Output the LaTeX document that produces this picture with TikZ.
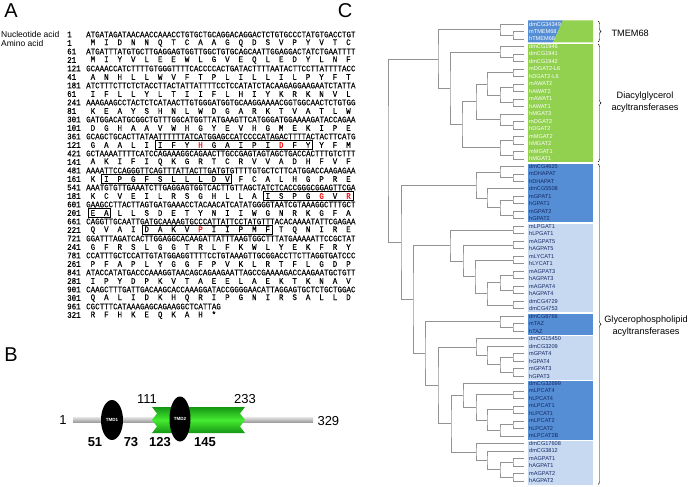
\documentclass[tikz,border=0pt]{standalone}
\usepackage{fontspec}
\setmainfont{Liberation Sans}
\newfontfamily\seqfont[FakeStretch=0.88,FakeBold=0.3]{Liberation Mono}
\usetikzlibrary{calc,shapes.geometric,decorations.pathreplacing}

\definecolor{dagreen}{RGB}{146,208,80}
\definecolor{gpdark}{RGB}{85,142,213}
\definecolor{gplight}{RGB}{198,217,241}
\definecolor{lblnavy}{RGB}{20,40,100}
\definecolor{domlight}{RGB}{70,235,50}
\definecolor{domdark}{RGB}{20,150,20}

\newcommand\rd[1]{\textcolor{red}{#1}}
\newcommand\aaseq[1]{\aaA#1\relax}
\def\aaA#1{\ifx\relax#1\else\hbox to 13.45pt{\hfil#1\hfil}\expandafter\aaA\fi}

% join two children at depth x
\newcommand\jn[4]{%
  \coordinate (#1m) at ($(#3)!.5!(#4)$);
  \coordinate (#1) at (#2,0 |- #1m);
  \draw[branch] (#3) -| (#1) |- (#4);}

\newcommand\aabox[3]{%
  \draw[seqbox] ({86+(3*#2-1.5)*4.483-4.5},{43+17*#1-4.3}) rectangle ({86+(3*#3-1.5)*4.483+4.5},{43+17*#1+4.3});}

\begin{document}
\begin{tikzpicture}[x=1pt,y=-1pt,
  panel/.style={font=\fontsize{20}{20}\selectfont},
  seqline/.style={anchor=west,inner sep=0pt,font=\seqfont\fontsize{8.5}{9}\selectfont},
  rownum/.style={seqline},
  seqbox/.style={draw=black,line width=.5pt},
  branch/.style={draw=gray!85,line width=.6pt},
  leaf/.style={anchor=west,inner sep=0pt,font=\fontsize{5.6}{6}\selectfont},
  group/.style={align=center,font=\fontsize{9.2}{11.5}\selectfont},
  resnum/.style={font=\fontsize{13}{13}\selectfont},
  tmd/.style={ellipse,fill=black,inner sep=0pt,text=white,font=\bfseries\fontsize{4.5}{5}\selectfont}]
\useasboundingbox (0,0) rectangle (697,487);

% ---------- A ----------
\node[panel] (pa) at (11,11) {A};
\node[anchor=west,inner sep=0pt,font=\fontsize{8.5}{9}\selectfont] (ntl) at (1,34.5) {Nucleotide acid};
\node[anchor=west,inner sep=0pt,font=\fontsize{8.5}{9}\selectfont] (aal) at (1,43) {Amino acid};
\foreach \nn/\ns/\an/\as [count=\k from 0] in {
 1/ATGATAGATAACAACCAAACCTGTGCTGCAGGACAGGACTCTGTGCCCTATGTGACCTGT/1/MIDNNQTCAAGQDSVPYVTC,
 61/ATGATTTATGTGCTTGAGGAGTGGTTGGCTGTGCAGCAATTGGAGGACTATCTGAATTTT/21/MIYVLEEWLGVEQLEDYLNF,
 121/GCAAACCATCTTTTGTGGGTTTTCACCCCACTGATACTTTTAATACTTCCTTATTTTACC/41/ANHLLWVFTPLILLILPYFT,
 181/ATCTTTCTTCTCTACCTTACTATTATTTTCCTCCATATCTACAAGAGGAAGAATCTATTA/61/IFLLYLTIIFLHIYKRKNVL,
 241/AAAGAAGCCTACTCTCATAACTTGTGGGATGGTGCAAGGAAAACGGTGGCAACTCTGTGG/81/KEAYSHNLWDGARKTVATLW,
 301/GATGGACATGCGGCTGTTTGGCATGGTTATGAAGTTCATGGGATGGAAAAGATACCAGAA/101/DGHAAVWHGYEVHGMEKIPE,
 361/GCAGCTGCACTTATAATTTTTTATCATGGAGCCATCCCCATAGACTTTTACTACTTCATG/121/GAALIIFY{\rd H}GAIPI{\rd D}FYYFM,
 421/GCTAAAATTTTCATCCAGAAAGGCAGAACTTGCCGAGTAGTAGCTGACCACTTTGTCTTT/141/AKIFIQKGRTCRVVADHFVF,
 481/AAAATTCCAGGGTTCAGTTTATTACTTGATGTGTTTTGTGCTCTTCATGGACCAAGAGAA/161/KIPGFSLLLDVFCALHGPRE,
 541/AAATGTGTTGAAATCTTGAGGAGTGGTCACTTGTTAGCTATCTCACCGGGCGGAGTTCGA/181/KCVEILRSGHLLAISPG{\rd G}V{\rd R},
 601/GAAGCCTTACTTAGTGATGAAACCTACAACATCATATGGGGTAATCGTAAAGGCTTTGCT/201/EALLSDETYNIIWGNRKGFA,
 661/CAGGTTGCAATTGATGCAAAAGTGCCCATTATTCCTATGTTTACACAAAATATTCGAGAA/221/QVAIDAKV{\rd P}IIPMFTQNIRE,
 721/GGATTTAGATCACTTGGAGGCACAAGATTATTTAAGTGGCTTTATGAAAAATTCCGCTAT/241/GFRSLGGTRLFKWLYEKFRY,
 781/CCATTTGCTCCATTGTATGGAGGTTTTCCTGTAAAGTTGCGGACCTTCTTAGGTGATCCC/261/PFAPLYGGFPVKLRTFLGDP,
 841/ATACCATATGACCCAAAGGTAACAGCAGAAGAATTAGCCGAAAAGACCAAGAATGCTGTT/281/IPYDPKVTAEELAEKTKNAV,
 901/CAAGCTTTGATTGACAAGCACCAAAGGATACCGGGGAACATTAGGAGTGCTCTGCTGGAC/301/QALIDKHQRIPGNIRSALLD,
 961/CGCTTTCATAAAGAGCAGAAGGCTCATTAG/321/RFHKEQKAH*}{
  \node[rownum] (nn\k) at (67,{34.5+17*\k}) {\nn};
  \node[seqline] (ns\k) at (86,{34.5+17*\k}) {\ns};
  \node[rownum] (an\k) at (67,{43+17*\k}) {\an};
  \node[seqline] (as\k) at (86,{43+17*\k}) {\expandafter\aaseq\expandafter{\as}};
}
\aabox{6}{6}{17}
\aabox{8}{2}{11}
\aabox{9}{14}{20}
\aabox{10}{1}{2}
\aabox{11}{5}{14}

% ---------- B ----------
\node[panel] (pb) at (11,355) {B};
\shade[top color=gray!25,bottom color=gray!80] (73,417.5) rectangle (313,422.5);
\shade[top color=domdark,bottom color=domdark,middle color=domlight]
  (152,407) -- (245,407) -- (240,413.5) -- (245,420) -- (240,426.5) -- (245,433)
  -- (152,433) -- (157,426.5) -- (152,420) -- (157,413.5) -- cycle;
\node[tmd,minimum width=22pt,minimum height=40pt] (tmd1) at (112,420) {TMD1};
\node[tmd,minimum width=21pt,minimum height=45pt] (tmd2) at (180,419) {TMD2};
\node[resnum] (s1) at (63,420) {1};
\node[resnum,anchor=west] (s329) at (314,421) {329};
\node[resnum] (s111) at (147,399) {111};
\node[resnum] (s233) at (245,399) {233};
\node[resnum,font=\bfseries\fontsize{13}{13}\selectfont] (s51) at (95,442) {51};
\node[resnum,font=\bfseries\fontsize{13}{13}\selectfont] (s73) at (131,442) {73};
\node[resnum,font=\bfseries\fontsize{13}{13}\selectfont] (s123) at (160,442) {123};
\node[resnum,font=\bfseries\fontsize{13}{13}\selectfont] (s145) at (205,442) {145};

% ---------- C ----------
\node[panel] (pc) at (345,11) {C};
% group backgrounds
\fill[gpdark] (528,20.3) -- (563,20.3) -- (553,42.5) -- (528,42.5) -- cycle;
\fill[dagreen] (563,20.3) -- (593,20.3) -- (593,42.5) -- (553,42.5) -- cycle;
\fill[dagreen] (528,44.2) rectangle (593,162.3);
\fill[gpdark] (528,163.8) rectangle (593,222.2);
\fill[gplight] (528,223.7) rectangle (593,312.2);
\fill[gpdark] (528,313.7) rectangle (593,334.6);
\fill[gplight] (528,336.2) rectangle (593,379.6);
\fill[gpdark] (528,381.2) rectangle (593,439.6);
\fill[gplight] (528,441.1) rectangle (593,484.6);
% leaves
\foreach \nm [count=\i from 0] in {dmCG34349,mTMEM68,hTMEM68,
  dmCG1946,dmCG1941,dmCG1942,mDGAT2-L6,hDGAT2-L6,mAWAT2,hAWAT2,mAWAT1,hAWAT1,
  hMGAT3,mDGAT2,hDGAT2,mMGAT2,hMGAT2,mMGAT1,hMGAT1,
  dmCG4625,mDHAPAT,hDHAPAT,dmCG5508,mGPAT1,hGPAT1,mGPAT2,hGPAT2,
  mLPGAT1,hLPGAT1,mAGPAT5,hAGPAT5,mLYCAT1,hLYCAT1,mAGPAT3,hAGPAT3,
  mAGPAT4,hAGPAT4,dmCG4729,dmCG4753,
  dmCG8766,mTAZ,hTAZ,
  dmCG15450,dmCG3209,mGPAT4,hGPAT4,mGPAT3,hGPAT3,
  dmCG32699,mLPCAT4,hLPCAT4,mLPCAT1,hLPCAT1,mLPCAT2,hLPCAT2,mLPCAT2B,
  dmCG17608,dmCG3812,mAGPAT1,hAGPAT1,mAGPAT2,hAGPAT2}{
  \ifnum\i<19 \def\tc{white}\else\def\tc{lblnavy}\fi
  \coordinate (l\i) at (524,{24+7.49*\i});
  \node[leaf,text=\tc] (t\i) at (529,{24+7.49*\i}) {\nm};
}
% TMEM68
\jn{p1}{513}{l1}{l2}
\jn{tm}{500}{l0}{p1}
% DAG family
\jn{p4}{513}{l4}{l5}
\jn{dmd}{500}{l3}{p4}
\jn{p6}{513}{l6}{l7}
\jn{p8}{513}{l8}{l9}
\jn{p10}{513}{l10}{l11}
\jn{awat}{500}{p8}{p10}
\jn{dgl}{487}{p6}{awat}
\jn{p13}{513}{l13}{l14}
\jn{mgt3}{500}{l12}{p13}
\jn{dgx}{476}{dgl}{mgt3}
\jn{p15}{513}{l15}{l16}
\jn{p17}{513}{l17}{l18}
\jn{mgat}{500}{p15}{p17}
\jn{dgv}{462}{dgx}{mgat}
\jn{dag}{450}{dmd}{dgv}
\jn{tmdag}{438}{tm}{dag}
% GPAT / DHAPAT
\jn{p20}{513}{l20}{l21}
\jn{dhap}{500}{l19}{p20}
\jn{p23}{513}{l23}{l24}
\jn{p25}{513}{l25}{l26}
\jn{gp12}{500}{p23}{p25}
\jn{gpm}{487}{l22}{gp12}
\jn{gpdk}{476}{dhap}{gpm}
% LPGAT / AGPAT3-5
\jn{p27}{513}{l27}{l28}
\jn{p29}{513}{l29}{l30}
\jn{p31}{513}{l31}{l32}
\jn{p33}{513}{l33}{l34}
\jn{p35}{513}{l35}{l36}
\jn{p37}{513}{l37}{l38}
\jn{ag34}{500}{p33}{p35}
\jn{ag3}{487}{ag34}{p37}
\jn{lyc}{475}{p31}{ag3}
\jn{ag5}{463}{p29}{lyc}
\jn{agl}{450}{p27}{ag5}
% TAZ
\jn{p40}{513}{l40}{l41}
\jn{taz}{500}{l39}{p40}
% GPAT3/4
\jn{p44}{513}{l44}{l45}
\jn{p46}{513}{l46}{l47}
\jn{gp34}{500}{p44}{p46}
\jn{gpv}{487}{l43}{gp34}
\jn{gpl}{476}{l42}{gpv}
% LPCAT
\jn{p49}{513}{l49}{l50}
\jn{p51}{513}{l51}{l52}
\jn{p53}{513}{l53}{l54}
\jn{lpc2}{500}{p53}{l55}
\jn{lpcb}{487}{p51}{lpc2}
\jn{lpca}{476}{p49}{lpcb}
\jn{lpc}{463}{l48}{lpca}
% AGPAT1/2
\jn{p58}{513}{l58}{l59}
\jn{p60}{513}{l60}{l61}
\jn{ag12}{500}{p58}{p60}
\jn{ag12b}{487}{l57}{ag12}
\jn{agp}{476}{l56}{ag12b}
% backbone
\jn{lpag}{451}{lpc}{agp}
\jn{gplp}{438}{gpl}{lpag}
\jn{tzgp}{425}{taz}{gplp}
\jn{acyl}{413}{agl}{tzgp}
\jn{gpall}{401}{gpdk}{acyl}
\jn{root}{388}{tmdag}{gpall}
% braces
\draw[decorate,decoration={brace,amplitude=3pt}] (598,21) -- (598,42) coordinate[midway] (btm);
\draw[decorate,decoration={brace,amplitude=3pt}] (598,44) -- (598,162) coordinate[midway] (bdg);
\draw[decorate,decoration={brace,amplitude=3pt}] (598,164) -- (598,484.5) coordinate[midway] (bgp);
\node[group,anchor=west] (gtm) at (608,33) {TMEM68};
\node[group] (gdg) at (645,102) {Diacylglycerol\\acyltransferases};
\node[group] (ggp) at (646,326) {Glycerophospholipid\\acyltransferases};
\end{tikzpicture}
\end{document}
